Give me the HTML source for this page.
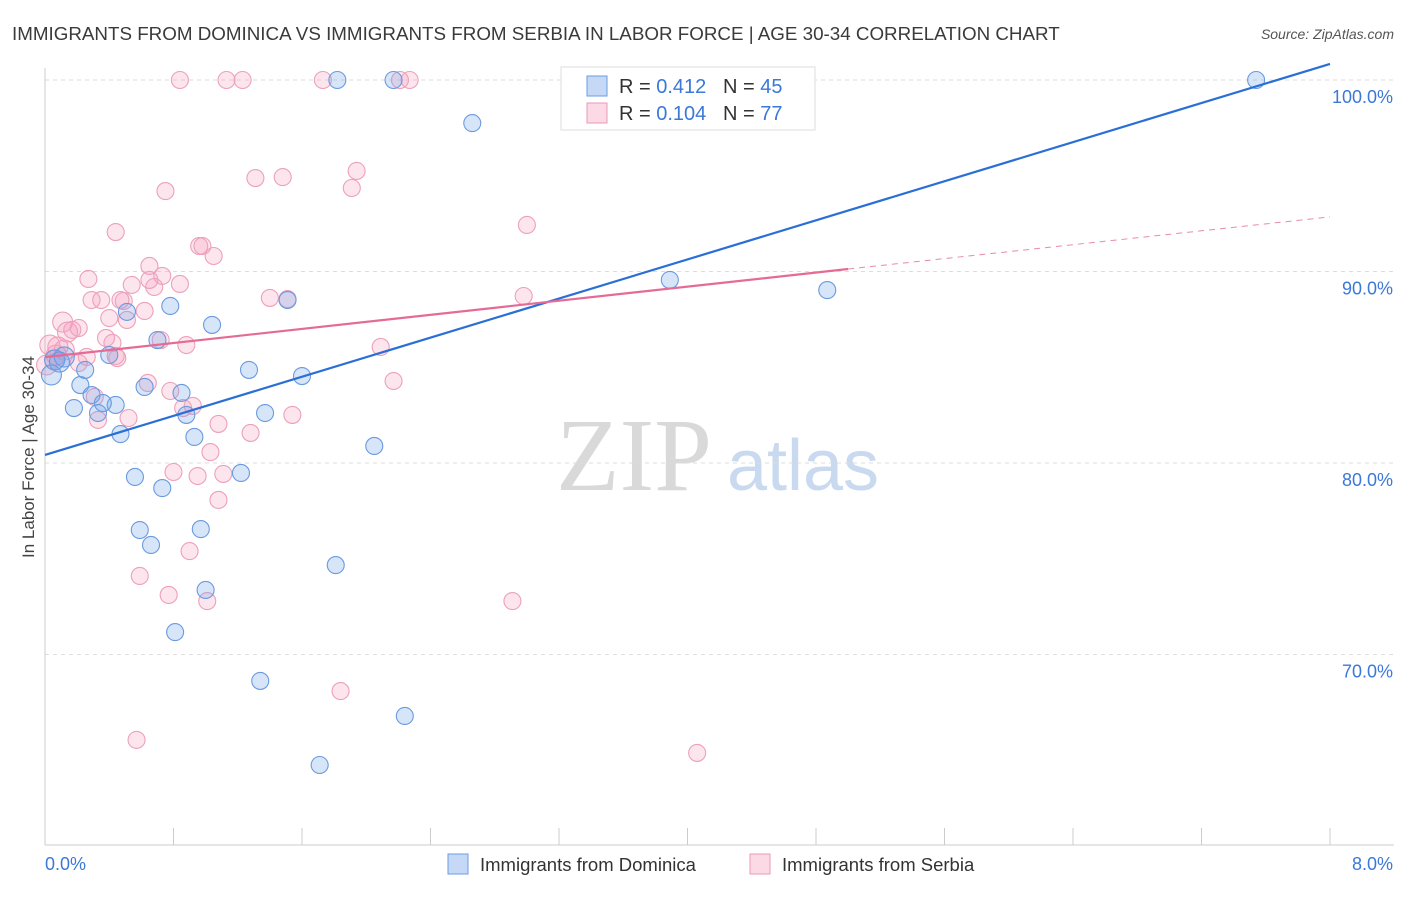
<!DOCTYPE html>
<html><head><meta charset="utf-8"><style>
body{margin:0;background:#fff;font-family:"Liberation Sans",sans-serif}
svg text{font-family:"Liberation Sans",sans-serif}
</style></head><body>
<svg id="c" width="1406" height="892" xmlns="http://www.w3.org/2000/svg">
<text x="12" y="40" font-size="18.8" fill="#3a3a3a">IMMIGRANTS FROM DOMINICA VS IMMIGRANTS FROM SERBIA IN LABOR FORCE | AGE 30-34 CORRELATION CHART</text>
<text x="1394" y="39" font-size="14" fill="#555" font-style="italic" text-anchor="end">Source: ZipAtlas.com</text>
<text transform="translate(34,457) rotate(-90)" font-size="17" fill="#444" text-anchor="middle">In Labor Force | Age 30-34</text>
<g>
<text x="634" y="490" font-size="104" fill="#d9d9d9" text-anchor="middle" style="font-family:'Liberation Serif',serif">ZIP</text>
<text x="803" y="490" font-size="72" fill="#c9d9ef" text-anchor="middle">atlas</text>
</g>
<g id="grid"></g><g id="axes"></g><g id="pts"></g><g id="lines"></g>
<g>
<rect x="561" y="67" width="254" height="63" fill="#fff" stroke="#ddd"/>
<rect x="587" y="76" width="20" height="20" fill="rgba(110,160,235,0.4)" stroke="#6b9be0"/>
<text x="619" y="93" font-size="20" fill="#333">R = <tspan fill="#3b78d8">0.412</tspan>&#160;&#160;&#160;N = <tspan fill="#3b78d8">45</tspan></text>
<rect x="587" y="103" width="20" height="20" fill="rgba(245,160,190,0.4)" stroke="#eb9ab8"/>
<text x="619" y="120" font-size="20" fill="#333">R = <tspan fill="#3b78d8">0.104</tspan>&#160;&#160;&#160;N = <tspan fill="#3b78d8">77</tspan></text>
</g>
<g>
<rect x="448" y="854" width="20" height="20" fill="rgba(110,160,235,0.4)" stroke="#6b9be0"/>
<text x="480" y="871" font-size="18.5" fill="#333">Immigrants from Dominica</text>
<rect x="750" y="854" width="20" height="20" fill="rgba(245,160,190,0.4)" stroke="#eb9ab8"/>
<text x="782" y="871" font-size="18.5" fill="#333">Immigrants from Serbia</text>
</g>
</svg>
<script>
const yTicks=[100,90,80,70];
const yTickLabels=["100.0%","90.0%","80.0%","70.0%"];
const xTickLabels=["0.0%","8.0%"];
const blueX=[1.82,2.17,4.19,7.54,2.66,3.89,4.87,0.78,0.51,1.04,0.70,0.40,0.06,0.04,0.22,0.25,1.27,1.60,0.62,0.85,0.29,0.18,0.44,0.36,0.33,0.88,1.37,0.47,0.93,2.05,0.56,1.22,0.73,0.59,0.97,0.66,1.81,1.00,0.81,1.34,2.24,1.71,1.51,0.12,0.09];
const blueY=[100,100,100,100,97.75,89.56,89.03,88.20,87.89,87.21,86.42,85.64,85.38,84.60,84.07,84.86,84.86,84.54,83.97,83.66,83.55,82.87,83.03,83.13,82.61,82.51,82.61,81.51,81.36,80.89,79.27,79.48,78.69,76.50,76.55,75.72,74.67,73.37,71.17,68.62,66.79,64.23,88.51,85.54,85.27];
const pinkX=[0.84,1.13,1.23,1.73,2.21,2.27,3.63,0.75,1.31,1.48,1.94,1.91,0.44,3.00,0.96,0.98,1.05,0.65,0.73,0.27,0.84,0.54,0.68,0.29,0.35,0.49,1.40,1.51,2.98,0.62,0.40,0.51,0.11,0.17,0.21,0.14,0.72,0.38,0.88,0.42,2.09,0.03,0.08,0.12,0.26,0.45,0.44,0.06,0.21,0.01,0.64,0.78,2.17,0.31,0.86,0.92,1.54,0.33,0.52,1.08,1.28,1.03,0.80,0.95,1.11,1.08,0.90,0.59,0.77,1.01,2.91,1.84,0.57,4.06,0.07,0.47,0.65];
const pinkY=[100,100,100,100,100,100,100,94.20,94.88,94.93,95.25,94.36,92.06,92.43,91.33,91.33,90.81,90.29,89.77,89.61,89.35,89.30,89.19,88.51,88.51,88.46,88.62,88.56,88.72,87.94,87.57,87.47,87.36,86.95,87.05,86.84,86.42,86.53,86.16,86.27,86.06,86.16,86.06,85.90,85.54,85.48,85.59,85.38,85.22,85.12,84.18,83.76,84.28,83.45,82.87,82.98,82.51,82.25,82.35,82.04,81.57,80.57,79.53,79.32,79.43,78.07,75.40,74.10,73.11,72.79,72.79,68.09,65.54,64.86,85.64,88.51,89.56];
const blueTrend=[80.42,100.84];
const pinkTrend=[85.53,90.13,92.85];
const pinkSolidEnd=5.0;
const X=v=>45+v*(1285/8), Y=v=>80+(100-v)*19.15;
const NS="http://www.w3.org/2000/svg";
function mk(t,a,p){const e=document.createElementNS(NS,t);for(const k in a)e.setAttribute(k,a[k]);document.getElementById(p).appendChild(e);return e;}
yTicks.forEach((t,i)=>{
 const g=mk('line',{x1:45,x2:1394,y1:Y(t),y2:Y(t),stroke:'#ddd','stroke-dasharray':'4,4'},'grid');
 
 
 const l=mk('text',{x:1393,y:Y(t)+23,'font-size':18,fill:'#3b78d8','text-anchor':'end'},'grid');
 l.textContent=yTickLabels[i];
 
 
});
const ax=mk('line',{x1:45,x2:1394,y1:845,y2:845,stroke:'#ccc'},'axes');


const ay=mk('line',{x1:45,x2:45,y1:68,y2:845,stroke:'#ccc'},'axes');


for(let k=1;k<=10;k++){const t=mk('line',{x1:X(k*0.8),x2:X(k*0.8),y1:828,y2:845,stroke:'#ccc'},'axes');
 
 }
const xl0=mk('text',{x:45,y:870,'font-size':18,fill:'#3b78d8'},'axes');xl0.textContent=xTickLabels[0];


const xl1=mk('text',{x:1393,y:870,'font-size':18,fill:'#3b78d8','text-anchor':'end'},'axes');xl1.textContent=xTickLabels[1];


function pts(xs,ys,fill,stroke,name){xs.forEach((x,i)=>{
 const r=(x<0.15&&ys[i]>84&&ys[i]<88)?10:8.5;
 const c=mk('circle',{cx:X(x),cy:Y(ys[i]),r:r,fill:fill,stroke:stroke,'stroke-width':1.1},'pts');
 
 
});}
pts(pinkX,pinkY,'rgba(245,160,190,0.28)','#eda0bc','serbia-point');
pts(blueX,blueY,'rgba(110,160,235,0.28)','#6a9ae0','dominica-point');
const bl=mk('line',{x1:X(0),y1:Y(blueTrend[0]),x2:X(8),y2:Y(blueTrend[1]),stroke:'#2a6fd6','stroke-width':2.2},'lines');


const pl=mk('line',{x1:X(0),y1:Y(pinkTrend[0]),x2:X(pinkSolidEnd),y2:Y(pinkTrend[1]),stroke:'#e56b97','stroke-width':2.2},'lines');


const pd=mk('line',{x1:X(pinkSolidEnd),y1:Y(pinkTrend[1]),x2:X(8),y2:Y(pinkTrend[2]),stroke:'#e88aab','stroke-width':1,'stroke-dasharray':'6,5'},'lines');


</script>
</body></html>
